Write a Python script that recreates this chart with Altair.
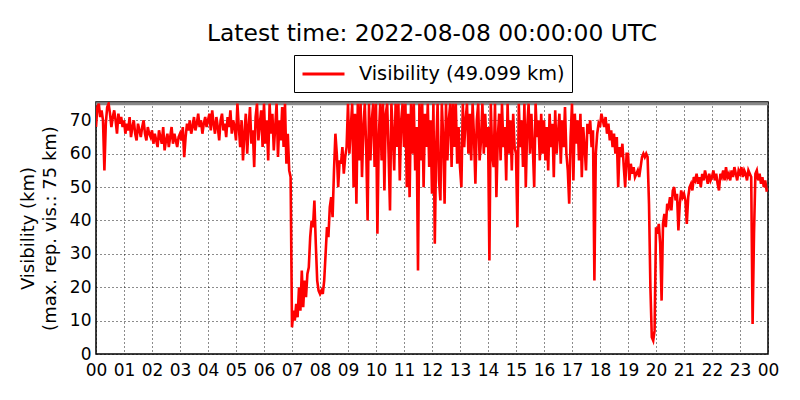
import altair as alt
import pandas as pd

# Visibility (km), ~3-minute samples, one list per hour of the day
h00 = [68, 74, 75, 71, 73, 70, 55, 69, 74, 75, 72, 68, 71, 73, 70, 66, 72, 69, 71, 68]
h01 = [70, 66, 69, 67, 71, 65, 68, 70, 66, 64, 69, 67, 65, 68, 70, 66, 64, 68, 66, 65]
h02 = [67, 63, 66, 64, 62, 67, 65, 63, 68, 61, 64, 66, 62, 65, 68, 63, 66, 64, 62, 65]
h03 = [66, 64, 68, 59, 65, 69, 67, 70, 66, 68, 71, 67, 69, 72, 68, 70, 66, 69, 71, 68]
h04 = [70, 72, 67, 73, 69, 66, 71, 68, 64, 70, 72, 67, 69, 65, 71, 68, 73, 66, 70, 68]
h05 = [64, 75, 68, 62, 70, 58, 66, 72, 60, 68, 74, 63, 67, 56, 71, 75, 64, 69, 73, 62]
h06 = [75, 63, 70, 58, 75, 66, 72, 61, 68, 75, 59, 70, 64, 74, 62, 75, 57, 66, 55, 53]
h07 = [8, 13, 10, 15, 11, 20, 13, 25, 14, 22, 17, 24, 26, 35, 40, 38, 46, 33, 22, 19]
h08 = [18, 19, 18, 22, 30, 38, 35, 44, 47, 41, 55, 66, 60, 50, 58, 57, 62, 54, 59, 62]
h09 = [75, 60, 68, 75, 50, 72, 45, 75, 58, 75, 53, 68, 75, 62, 40, 75, 58, 70, 75, 56]
h10 = [75, 36, 65, 75, 58, 75, 49, 72, 75, 60, 43, 75, 66, 55, 75, 62, 75, 52, 70, 75]
h11 = [62, 75, 50, 72, 47, 75, 60, 75, 55, 68, 25, 75, 58, 75, 50, 72, 62, 75, 56, 70]
h12 = [48, 75, 33, 62, 75, 52, 46, 75, 65, 45, 75, 58, 70, 75, 56, 75, 62, 75, 57, 68]
h13 = [56, 50, 75, 62, 70, 75, 60, 72, 58, 75, 65, 51, 70, 75, 58, 64, 75, 60, 72, 62]
h14 = [68, 28, 75, 60, 56, 75, 47, 65, 72, 58, 75, 62, 68, 52, 75, 60, 70, 55, 72, 62]
h15 = [60, 38, 75, 62, 70, 56, 75, 50, 68, 75, 60, 72, 62, 50, 75, 65, 70, 58, 72, 60]
h16 = [70, 58, 68, 55, 72, 62, 69, 53, 73, 60, 66, 72, 57, 70, 62, 74, 60, 55, 45, 65]
h17 = [75, 52, 72, 63, 70, 58, 72, 53, 68, 62, 55, 69, 66, 70, 62, 67, 22, 60, 66, 69]
h18 = [68, 72, 70, 68, 71, 66, 69, 64, 67, 62, 66, 60, 65, 50, 62, 59, 63, 56, 50, 60]
h19 = [60, 52, 57, 54, 56, 53, 54, 55, 53, 56, 59, 60, 59, 60, 59, 45, 20, 5, 4, 7]
h20 = [38, 36, 39, 33, 16, 39, 42, 38, 45, 44, 47, 43, 49, 50, 46, 48, 37, 45, 49, 47]
h21 = [48, 46, 39, 47, 50, 51, 49, 53, 52, 54, 51, 53, 50, 54, 52, 55, 53, 51, 54, 52]
h22 = [53, 55, 52, 54, 51, 49, 54, 53, 55, 52, 56, 53, 54, 52, 55, 53, 56, 54, 52, 55]
h23 = [54, 56, 53, 55, 54, 52, 55, 54, 53, 9, 36, 54, 55, 52, 54, 51, 53, 50, 52, 49]
last_value = [49.099]

hourly = [h00, h01, h02, h03, h04, h05, h06, h07, h08, h09, h10, h11,
          h12, h13, h14, h15, h16, h17, h18, h19, h20, h21, h22, h23]

hour_ticks = list(range(25))
y_ticks = [0, 10, 20, 30, 40, 50, 60, 70]
max_rep_vis = [75]

hours, values = [], []
for h, vals in enumerate(hourly):
    n = len(vals)
    for j, v in enumerate(vals):
        hours.append(h + j / n)
        values.append(v)
hours.append(24)
values.append(last_value[0])

df = pd.DataFrame({"hour": hours, "vis": values,
                   "series": ["Visibility (49.099 km)"] * len(values)})
df_max = pd.DataFrame({"vis": max_rep_vis})

FONT = "DejaVu Sans"

x_enc = alt.X("hour:Q",
              scale=alt.Scale(domain=[0, 24], nice=False),
              axis=alt.Axis(values=hour_ticks, title=None, ticks=False,
                            labelExpr="(datum.value % 24) < 10 ? '0' + (datum.value % 24) : '' + (datum.value % 24)",
                            labelFontSize=17, labelFont=FONT, labelColor="black",
                            labelPadding=8, grid=True, gridDash=[1, 3],
                            gridColor="black", gridOpacity=0.9, domain=False,
                            labelFlush=False, labelOverlap=False))
y_scale = alt.Scale(domain=[0, 75.5], nice=False)
y_axis = alt.Axis(values=y_ticks, ticks=False, labelFontSize=17,
                  labelFont=FONT, labelColor="black", labelPadding=5,
                  labelOverlap=False,
                  grid=True, gridDash=[1, 3], gridColor="black",
                  gridOpacity=0.9, domain=False,
                  title=["Visibility (km)", "(max. rep. vis.: 75 km)"],
                  titleFontSize=18, titleFont=FONT, titleFontWeight="normal",
                  titleColor="black", titlePadding=10, titleLineHeight=22)

line = alt.Chart(df).mark_line(strokeWidth=2.6, clip=True).encode(
    x=x_enc,
    y=alt.Y("vis:Q", scale=y_scale, axis=y_axis),
    color=alt.Color("series:N",
                    scale=alt.Scale(range=["#ff0000"]),
                    legend=alt.Legend(title=None, orient="none", legendX=198,
                                      legendY=-47, symbolType="M-1,0H3",
                                      symbolSize=441, symbolStrokeWidth=3,
                                      symbolFillColor="transparent",
                                      labelFontSize=19.3, labelFont=FONT,
                                      labelColor="black", labelLimit=0,
                                      strokeColor="black",
                                      fillColor="white", padding=7,
                                      labelOffset=34, cornerRadius=0)),
)

maxline = alt.Chart(df_max).mark_rule(color="#888888", strokeWidth=3).encode(
    y=alt.Y("vis:Q", scale=y_scale, axis=y_axis)
)

chart = alt.layer(maxline, line).properties(
    width=672, height=252,
    padding={"left": 88, "top": 94, "right": 24, "bottom": 38},
    autosize=alt.AutoSizeParams(type="none"),
    background="white",
    title=alt.TitleParams("Latest time: 2022-08-08 00:00:00 UTC", fontSize=23.4,
                          font=FONT, fontWeight="normal", color="black",
                          offset=8, anchor="middle"),
).configure_view(stroke="black", strokeWidth=1.5)

chart.save("out.html", embed_options={"renderer": "svg", "actions": False})
